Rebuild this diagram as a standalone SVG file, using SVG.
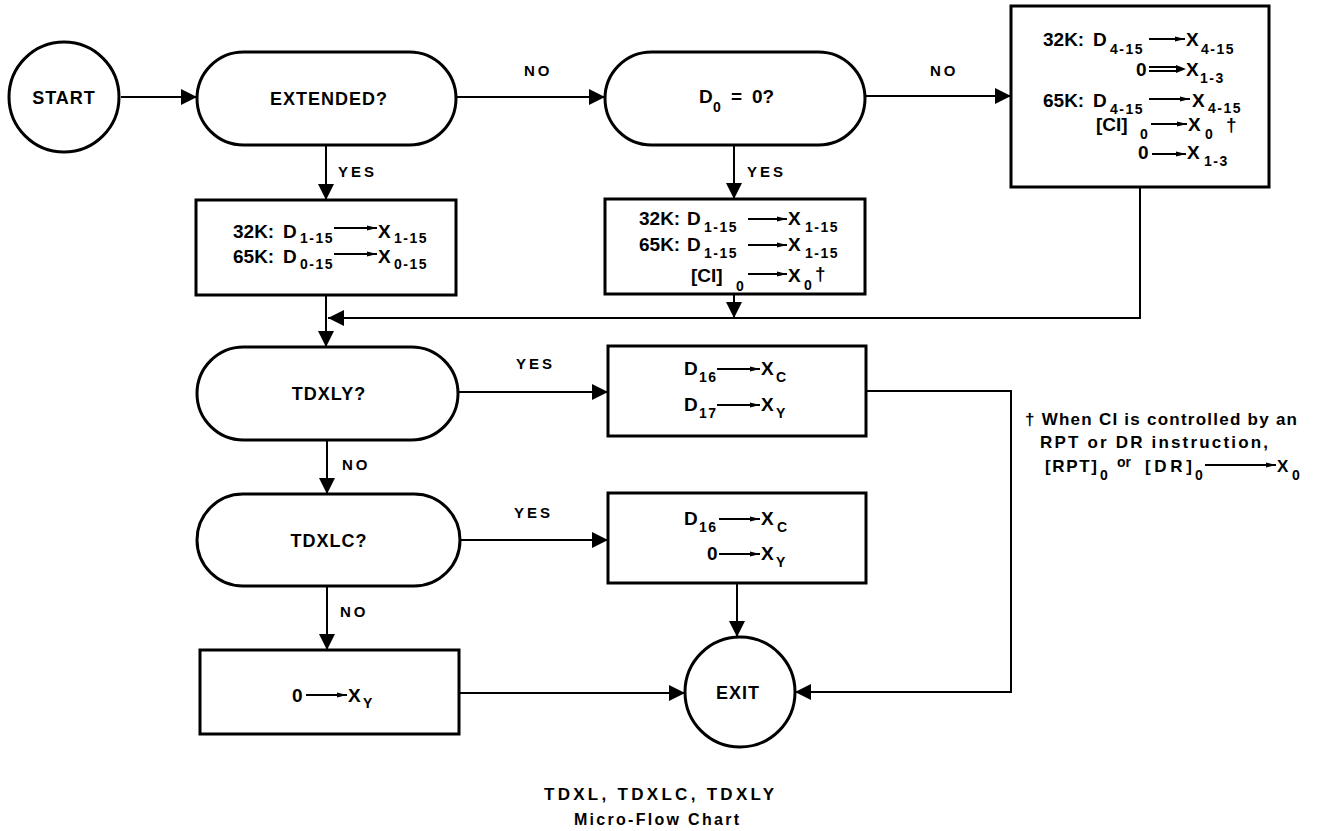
<svg xmlns="http://www.w3.org/2000/svg" width="1323" height="831" viewBox="0 0 1323 831">
<defs>
<style>
.shape{fill:#fff;stroke:#000;stroke-width:3}
.conn{fill:none;stroke:#000;stroke-width:2}
.ia{fill:none;stroke:#000;stroke-width:2}
.t{font-family:"Liberation Sans",Arial,sans-serif;font-weight:bold;fill:#000}
.big{font-size:18px;letter-spacing:1px}
.m{font-size:19px}
.s{font-size:14px;letter-spacing:1.5px}
.lbl{font-size:15px;letter-spacing:3px}
.fn{font-size:17px}
</style>
<marker id="ah" viewBox="0 0 16 16" refX="16" refY="8" markerWidth="16" markerHeight="16" orient="auto" markerUnits="userSpaceOnUse"><path d="M0,0 L16,8 L0,16 z" fill="#000"/></marker>
<marker id="sa" viewBox="0 0 10 6" refX="10" refY="3" markerWidth="10" markerHeight="6" orient="auto" markerUnits="userSpaceOnUse"><path d="M0,0.5 L10,3 L0,5.5 z" fill="#000"/></marker>
</defs>
<rect width="1323" height="831" fill="#fff"/>

<g id="connectors">
<path class="conn" d="M121,97 H197" marker-end="url(#ah)"/>
<path class="conn" d="M456,97 H605" marker-end="url(#ah)"/>
<path class="conn" d="M865,96 H1011" marker-end="url(#ah)"/>
<path class="conn" d="M326,145 V200" marker-end="url(#ah)"/>
<path class="conn" d="M734,145 V199" marker-end="url(#ah)"/>
<path class="conn" d="M326,295 V347" marker-end="url(#ah)"/>
<path class="conn" d="M1140,187 V318 H328" marker-end="url(#ah)"/>
<path class="conn" d="M734,294 V318" marker-end="url(#ah)"/>
<path class="conn" d="M458,392 H608" marker-end="url(#ah)"/>
<path class="conn" d="M866,391 H1011 V692 H795" marker-end="url(#ah)"/>
<path class="conn" d="M327,440 V494" marker-end="url(#ah)"/>
<path class="conn" d="M460,540 H608" marker-end="url(#ah)"/>
<path class="conn" d="M737,583 V637" marker-end="url(#ah)"/>
<path class="conn" d="M327,586 V650" marker-end="url(#ah)"/>
<path class="conn" d="M459,693 H685" marker-end="url(#ah)"/>
<text class="t lbl" x="524" y="76">NO</text>
<text class="t lbl" x="930" y="76">NO</text>
<text class="t lbl" x="338" y="177">YES</text>
<text class="t lbl" x="747" y="177">YES</text>
<text class="t lbl" x="516" y="369">YES</text>
<text class="t lbl" x="342" y="470">NO</text>
<text class="t lbl" x="514" y="518">YES</text>
<text class="t lbl" x="340" y="617">NO</text>
</g>

<g id="start">
<circle class="shape" cx="64" cy="97" r="55"/>
<text class="t big" x="64" y="104" text-anchor="middle" letter-spacing="1.5">START</text>
</g>

<g id="extended">
<rect class="shape" x="197" y="52" width="259" height="93" rx="46.5"/>
<text class="t big" x="329" y="105" text-anchor="middle">EXTENDED?</text>
</g>

<g id="d0">
<rect class="shape" x="605" y="52" width="260" height="93" rx="46.5"/>
<text class="t m" x="699" y="103">D</text>
<text class="t s" x="713" y="112">0</text>
<text class="t m" x="731" y="103">=</text>
<text class="t m" x="752" y="103">0?</text>
</g>

<g id="box-no-ext">
<rect class="shape" x="1011" y="6" width="258" height="181"/>
<text class="t m" x="1043" y="46">32K:</text>
<text class="t m" x="1093" y="46">D</text>
<text class="t s" x="1110" y="54">4-15</text>
<path class="ia" d="M1149,39 H1185" marker-end="url(#sa)"/>
<text class="t m" x="1186" y="46">X</text>
<text class="t s" x="1201" y="54">4-15</text>

<text class="t m" x="1136" y="76">0</text>
<path class="ia" d="M1149,67 H1178 M1149,71 H1178" stroke-width="1.3"/>
<path d="M1176,65 L1186,69 L1176,73 z" fill="#000"/>
<text class="t m" x="1186" y="76">X</text>
<text class="t s" x="1200" y="83">1-3</text>

<text class="t m" x="1043" y="107">65K:</text>
<text class="t m" x="1093" y="107">D</text>
<text class="t s" x="1110" y="114">4-15</text>
<path class="ia" d="M1149,99 H1190" marker-end="url(#sa)"/>
<text class="t m" x="1192" y="107">X</text>
<text class="t s" x="1208" y="113">4-15</text>

<text class="t m" x="1096" y="131">[CI]</text>
<text class="t s" x="1140" y="139">0</text>
<path class="ia" d="M1151,124 H1187" marker-end="url(#sa)"/>
<text class="t m" x="1188" y="131">X</text>
<text class="t s" x="1205" y="139">0</text>
<text class="t m" x="1226" y="131">†</text>

<text class="t m" x="1138" y="159">0</text>
<path class="ia" d="M1152,154 H1186" marker-end="url(#sa)"/>
<text class="t m" x="1187" y="159">X</text>
<text class="t s" x="1204" y="166">1-3</text>
</g>

<g id="box-ext">
<rect class="shape" x="196" y="200" width="260" height="95"/>
<text class="t m" x="233" y="238">32K:</text>
<text class="t m" x="283" y="238">D</text>
<text class="t s" x="300" y="243">1-15</text>
<path class="ia" d="M334,228 H377" marker-end="url(#sa)"/>
<text class="t m" x="378" y="238">X</text>
<text class="t s" x="394" y="243">1-15</text>
<text class="t m" x="233" y="263">65K:</text>
<text class="t m" x="283" y="263">D</text>
<text class="t s" x="300" y="269">0-15</text>
<path class="ia" d="M334,254 H377" marker-end="url(#sa)"/>
<text class="t m" x="378" y="263">X</text>
<text class="t s" x="394" y="269">0-15</text>
</g>

<g id="box-d0">
<rect class="shape" x="605" y="199" width="260" height="95"/>
<text class="t m" x="639" y="225">32K:</text>
<text class="t m" x="687" y="225">D</text>
<text class="t s" x="704" y="232">1-15</text>
<path class="ia" d="M748,219 H787" marker-end="url(#sa)"/>
<text class="t m" x="788" y="225">X</text>
<text class="t s" x="805" y="232">1-15</text>
<text class="t m" x="639" y="251">65K:</text>
<text class="t m" x="687" y="251">D</text>
<text class="t s" x="704" y="258">1-15</text>
<path class="ia" d="M748,245 H787" marker-end="url(#sa)"/>
<text class="t m" x="788" y="251">X</text>
<text class="t s" x="805" y="258">1-15</text>
<text class="t m" x="691" y="282">[CI]</text>
<text class="t s" x="736" y="291">0</text>
<path class="ia" d="M748,274 H787" marker-end="url(#sa)"/>
<text class="t m" x="788" y="282">X</text>
<text class="t s" x="804" y="290">0</text>
<text class="t m" x="815" y="280" font-size="15">†</text>
</g>

<g id="tdxly">
<rect class="shape" x="197" y="347" width="261" height="93" rx="46.5"/>
<text class="t big" x="329" y="400" text-anchor="middle">TDXLY?</text>
</g>

<g id="box-tdxly">
<rect class="shape" x="608" y="346" width="258" height="90"/>
<text class="t m" x="684" y="375">D</text>
<text class="t s" x="699" y="382" letter-spacing="0">16</text>
<path class="ia" d="M717,369 H760" marker-end="url(#sa)"/>
<text class="t m" x="761" y="375">X</text>
<text class="t s" x="776" y="382">C</text>
<text class="t m" x="684" y="411">D</text>
<text class="t s" x="699" y="418" letter-spacing="0">17</text>
<path class="ia" d="M717,405 H760" marker-end="url(#sa)"/>
<text class="t m" x="761" y="411">X</text>
<text class="t s" x="776" y="418">Y</text>
</g>

<g id="tdxlc">
<rect class="shape" x="197" y="494" width="263" height="92" rx="46"/>
<text class="t big" x="329" y="547" text-anchor="middle">TDXLC?</text>
</g>

<g id="box-tdxlc">
<rect class="shape" x="608" y="493" width="258" height="90"/>
<text class="t m" x="684" y="525">D</text>
<text class="t s" x="699" y="532" letter-spacing="0">16</text>
<path class="ia" d="M719,519 H760" marker-end="url(#sa)"/>
<text class="t m" x="761" y="525">X</text>
<text class="t s" x="777" y="532">C</text>
<text class="t m" x="707" y="560">0</text>
<path class="ia" d="M719,554 H760" marker-end="url(#sa)"/>
<text class="t m" x="761" y="560">X</text>
<text class="t s" x="776" y="567">Y</text>
</g>

<g id="box-zero">
<rect class="shape" x="200" y="650" width="259" height="84"/>
<text class="t m" x="292" y="702">0</text>
<path class="ia" d="M306,695 H347" marker-end="url(#sa)"/>
<text class="t m" x="348" y="702">X</text>
<text class="t s" x="363" y="708">Y</text>
</g>

<g id="exit">
<circle class="shape" cx="740" cy="692" r="55"/>
<text class="t big" x="738" y="699" text-anchor="middle" letter-spacing="2">EXIT</text>
</g>

<g id="footnote">
<text class="t fn" x="1025" y="425" textLength="272" lengthAdjust="spacing">† When CI is controlled by an</text>
<text class="t fn" x="1040" y="448" textLength="228" lengthAdjust="spacing">RPT or DR instruction,</text>
<text class="t fn" x="1045" y="472" textLength="52" lengthAdjust="spacing">[RPT]</text>
<text class="t s" x="1100" y="480">0</text>
<text class="t" x="1117" y="467" font-size="14">or</text>
<text class="t fn" x="1145" y="472" textLength="47" lengthAdjust="spacing">[DR]</text>
<text class="t s" x="1195" y="480">0</text>
<path class="ia" d="M1205,465 H1276" marker-end="url(#sa)"/>
<text class="t fn" x="1277" y="472">X</text>
<text class="t s" x="1292" y="480">0</text>
</g>

<g id="title">
<text class="t" x="544" y="800" font-size="17" textLength="230" lengthAdjust="spacing">TDXL, TDXLC, TDXLY</text>
<text class="t" x="574" y="825" font-size="16" textLength="165" lengthAdjust="spacing">Micro-Flow Chart</text>
</g>
</svg>
